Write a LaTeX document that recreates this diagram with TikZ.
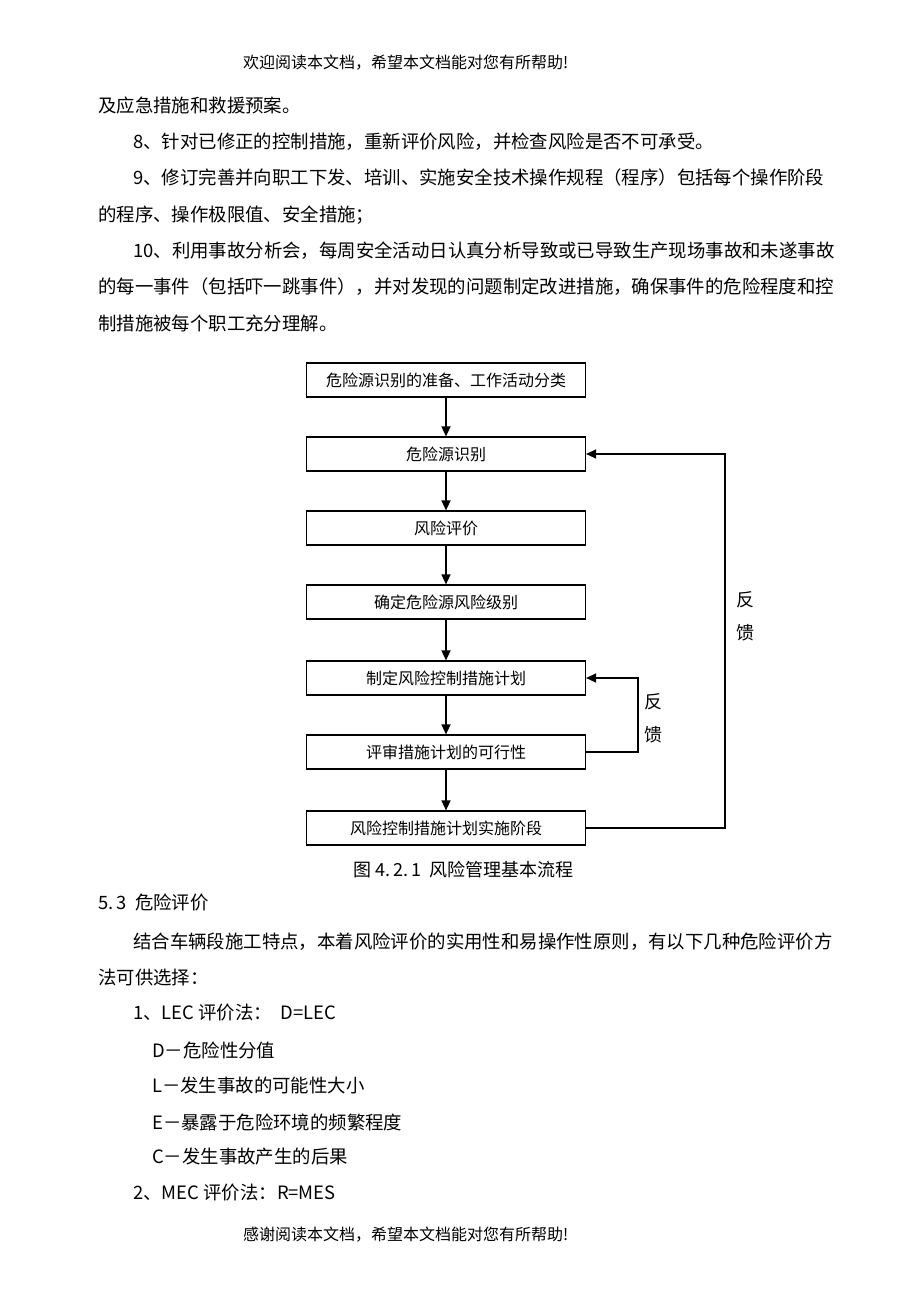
\documentclass[tikz,border=0pt]{standalone}
\usepackage{fontspec}
\newfontfamily\cjk{Noto Sans CJK SC}
\usepackage{tikz}
\usetikzlibrary{arrows.meta, positioning}

\begin{document}
\begin{tikzpicture}[x=1pt, y=-1pt,
    body/.style={anchor=west, inner sep=0pt, font=\cjk\fontsize{18.4}{18.4}\selectfont},
    note/.style={anchor=west, inner sep=0pt, font=\cjk\fontsize{16}{16}\selectfont},
    stepbox/.style={draw, line width=1.2pt, minimum width=279pt, minimum height=34pt,
      inner sep=0pt, font=\cjk\fontsize{16}{16}\selectfont},
    arr/.style={line width=1.4pt, -{Triangle[length=10pt, width=9pt]}},
    fb/.style={inner sep=0pt, font=\cjk\fontsize{18}{18}\selectfont}]
        \useasboundingbox[fill=white] (0,0) rectangle (920,1302);
        % Page header
        \node[note] (head) at (243,63) {欢迎阅读本文档，希望本文档能对您有所帮助!};
        % Text above the chart
        \node[body] (p1) at (98,105) {及应急措施和救援预案。};
        \node[body] (p2) at (133,142) {8、针对已修正的控制措施，重新评价风险，并检查风险是否不可承受。};
        \node[body] (p3) at (133,178) {9、修订完善并向职工下发、培训、实施安全技术操作规程（程序）包括每个操作阶段};
        \node[body] (p4) at (98,215) {的程序、操作极限值、安全措施；};
        \node[body] (p5) at (133,251) {10、利用事故分析会，每周安全活动日认真分析导致或已导致生产现场事故和未遂事故};
        \node[body] (p6) at (98,287) {的每一事件（包括吓一跳事件），并对发现的问题制定改进措施，确保事件的危险程度和控};
        \node[body] (p7) at (98,323) {制措施被每个职工充分理解。};
        % Flow chart boxes
        \node[stepbox] (b1) at (446,380) {危险源识别的准备、工作活动分类};
        \node[stepbox] (b2) at (446,454) {危险源识别};
        \node[stepbox] (b3) at (446,528) {风险评价};
        \node[stepbox] (b4) at (446,602) {确定危险源风险级别};
        \node[stepbox] (b5) at (446,678) {制定风险控制措施计划};
        \node[stepbox] (b6) at (446,752) {评审措施计划的可行性};
        \node[stepbox] (b7) at (446,828) {风险控制措施计划实施阶段};
        \draw[arr] (b1) -- (b2);
        \draw[arr] (b2) -- (b3);
        \draw[arr] (b3) -- (b4);
        \draw[arr] (b4) -- (b5);
        \draw[arr] (b5) -- (b6);
        \draw[arr] (b6) -- (b7);
        % Feedback loops
        \draw[arr] (b6.east) -- ++(52,0) |- (b5.east);
        \node[fb] (fb1a) at (653,702) {反};
        \node[fb] (fb1b) at (653,735) {馈};
        \draw[arr] (b7.east) -- ++(139,0) |- (b2.east);
        \node[fb] (fb2a) at (745,600) {反};
        \node[fb] (fb2b) at (745,633) {馈};
        % Caption
        \node[body, font=\cjk\fontsize{18}{18}\selectfont] (cap) at (353,870) {图 4.\,2.\,1\ \ 风险管理基本流程};
        % Text below the chart
        \node[body] (q1) at (98,903) {5.\,3\ \ 危险评价};
        \node[body] (q2) at (133,942) {结合车辆段施工特点，本着风险评价的实用性和易操作性原则，有以下几种危险评价方};
        \node[body] (q3) at (98,978) {法可供选择：};
        \node[body] (q4) at (133,1013) {1、LEC 评价法：\ \ D=LEC};
        \node[body] (q5) at (152,1050) {D－危险性分值};
        \node[body] (q6) at (152,1085) {L－发生事故的可能性大小};
        \node[body] (q7) at (152,1122) {E－暴露于危险环境的频繁程度};
        \node[body] (q8) at (152,1157) {C－发生事故产生的后果};
        \node[body] (q9) at (133,1193) {2、MEC 评价法：R=MES};
        % Page footer
        \node[note] (foot) at (243,1235) {感谢阅读本文档，希望本文档能对您有所帮助!};
      \end{tikzpicture}
\end{document}
